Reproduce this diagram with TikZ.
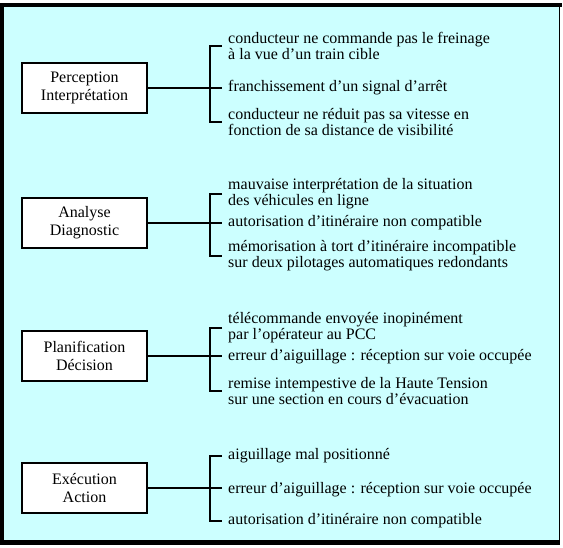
\documentclass[tikz,border=0pt]{standalone}
\usepackage{fontspec}
\setmainfont{Liberation Serif}
\definecolor{bgcyan}{RGB}{204,255,255}
\begin{document}
\begin{tikzpicture}[x=1pt,y=-1pt,
  box/.style={draw, line width=2.2pt, fill=white, minimum width=125pt, minimum height=50pt,
    align=center, font=\fontsize{16}{18}\selectfont, inner sep=0pt},
  item/.style={anchor=west, align=left, font=\fontsize{16}{16}\selectfont, inner sep=0pt},
  conn/.style={line width=1.5pt}]
\useasboundingbox (0,0) rectangle (563,548);
% frame
\fill[bgcyan] (4,6) rectangle (559,540);
\fill[black] (0,3) rectangle (562,7);
\fill[black] (0,3) rectangle (4,545);
\fill[black] (0,540) rectangle (560,545);
\draw[line width=1pt] (559.5,7) -- (559.5,545);
% spine coordinate
\coordinate (sp) at (210,0);
% group 1
\node[box] (b1) at (84.5,88) {Perception\\Interprétation};
\node[item] (i11) at (228,46) {conducteur ne commande pas le freinage\\à la vue d'un train cible};
\node[item] (i12) at (228,88) {franchissement d'un signal d'arrêt};
\node[item] (i13) at (228,122) {conducteur ne réduit pas sa vitesse en\\fonction de sa distance de visibilité};
% group 2
\node[box] (b2) at (84.5,223) {Analyse\\Diagnostic};
\node[item] (i21) at (228,194) {mauvaise interprétation de la situation\\des véhicules en ligne};
\node[item] (i22) at (228,223) {autorisation d'itinéraire non compatible};
\node[item] (i23) at (228,256) {mémorisation à tort d'itinéraire incompatible\\sur deux pilotages automatiques redondants};
% group 3
\node[box] (b3) at (84.5,356) {Planification\\Décision};
\node[item] (i31) at (228,328) {télécommande envoyée inopinément\\par l'opérateur au PCC};
\node[item] (i32) at (228,357) {erreur d'aiguillage : réception sur voie occupée};
\node[item] (i33) at (228,391) {remise intempestive de la Haute Tension\\sur une section en cours d'évacuation};
% group 4
\node[box] (b4) at (84.5,488) {Exécution\\Action};
\node[item] (i41) at (228,456) {aiguillage mal positionné};
\node[item] (i42) at (228,490) {erreur d'aiguillage : réception sur voie occupée};
\node[item] (i43) at (228,521) {autorisation d'itinéraire non compatible};
% connectors
\foreach \g in {1,2,3,4}{
  \draw[conn] (b\g.east) -- (b\g.east -| sp) -- ([xshift=-6pt]i\g2.west |- b\g.east);
  \draw[conn] ([xshift=-6pt]i\g1.west) -- (i\g1.west -| sp) -- (i\g3.west -| sp) -- ([xshift=-6pt]i\g3.west);
}
\end{tikzpicture}
\end{document}
